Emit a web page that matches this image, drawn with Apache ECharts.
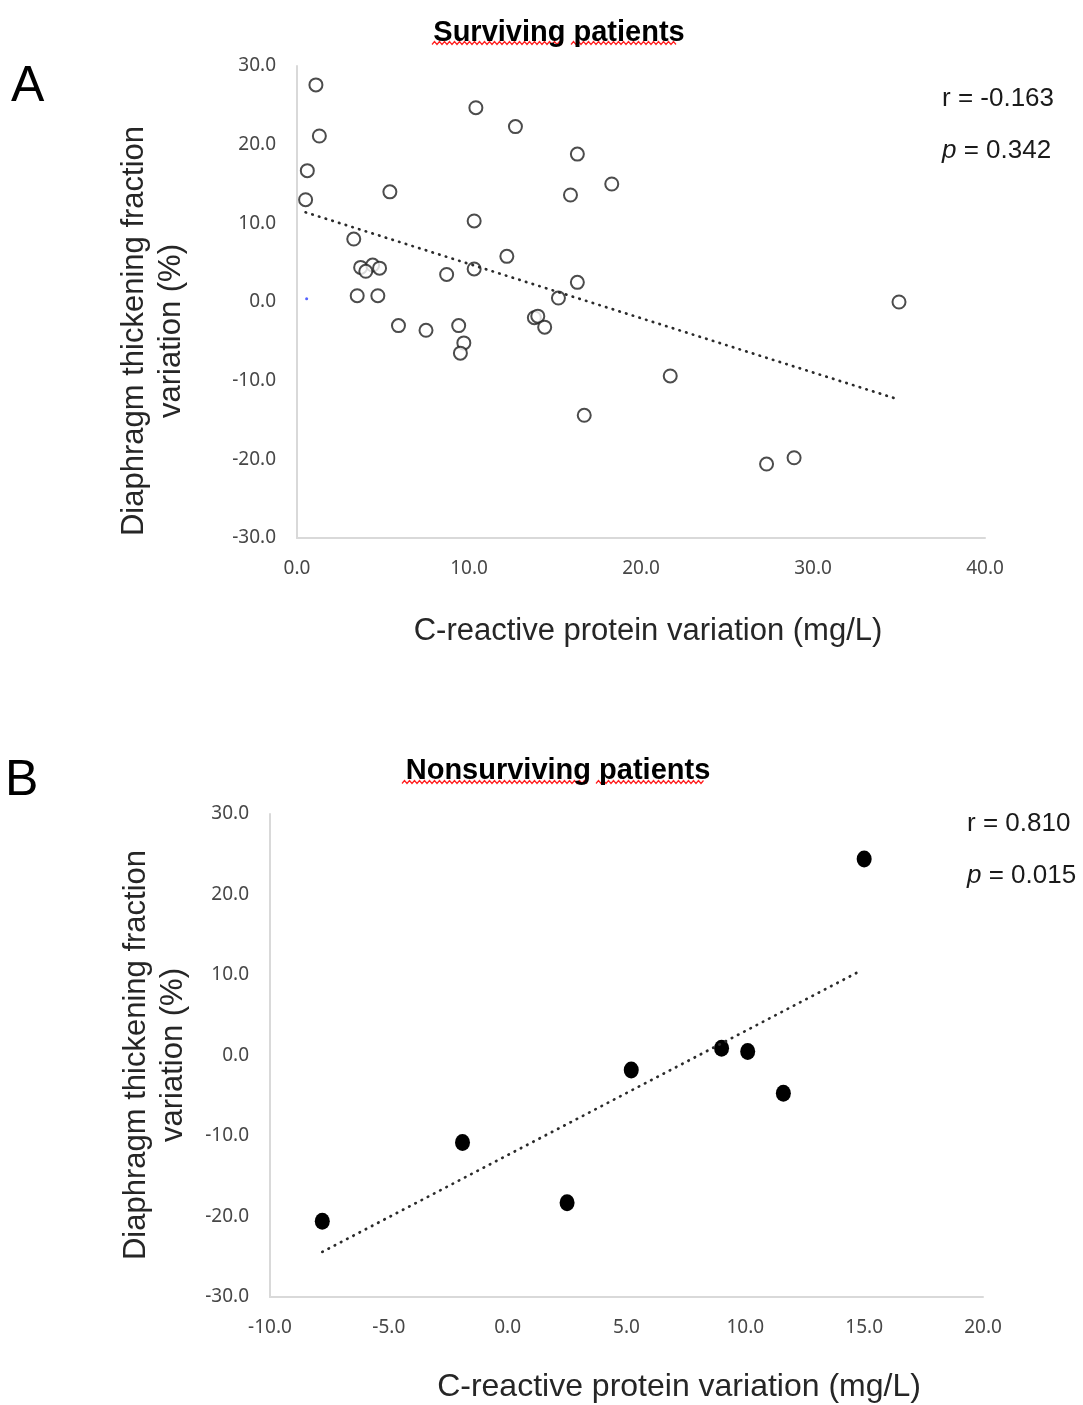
<!DOCTYPE html>
<html>
<head>
<meta charset="utf-8">
<script src="https://cdn.jsdelivr.net/npm/echarts@6/dist/echarts.min.js"></script>
<style>
  html, body { margin: 0; padding: 0; background: #fff; }
  #chart { width: 1083px; height: 1405px; }
</style>
</head>
<body>
<div id="chart"></div>
<script>
// panel A - surviving patients: [CRP variation, DTF variation]
var survivingPoints = [
  [1.1, 27.6], [10.4, 24.7], [12.7, 22.3], [1.3, 21.1], [16.3, 18.8],
  [0.6, 16.7], [18.3, 15.0], [5.4, 14.0], [15.9, 13.6], [0.5, 13.0],
  [10.3, 10.3], [3.3, 8.0], [12.2, 5.8], [3.7, 4.4], [4.4, 4.7],
  [4.0, 3.9], [4.8, 4.3], [10.3, 4.2], [8.7, 3.5], [16.3, 2.5],
  [3.5, 0.8], [4.7, 0.8], [15.2, 0.5], [35.0, 0.0], [5.9, -3.0],
  [7.5, -3.6], [9.4, -3.0], [13.8, -2.0], [14.0, -1.8], [14.4, -3.2],
  [9.7, -5.2], [9.5, -6.5], [21.7, -9.4], [16.7, -14.4], [27.3, -20.6],
  [28.9, -19.8]
];
var survivingStray = [[0.56, 0.4]];
var survivingTrend = [[0.5, 11.4], [34.7, -12.2]];
var survivingStats = { r: '-0.163', p: '0.342' };

// panel B - nonsurviving patients
var nonsurvivingPoints = [
  [-7.8, -20.6], [-1.9, -10.8], [2.5, -18.3], [5.2, -1.8],
  [9.0, 0.9], [10.1, 0.5], [11.6, -4.7], [15.0, 24.4]
];
var nonsurvivingTrend = [[-7.8, -24.4], [14.9, 10.6]];
var nonsurvivingStats = { r: '0.810', p: '0.015' };

var yTicks = { min: -30, max: 30, interval: 10 };
var xTicksA = { min: 0, max: 40, interval: 10 };
var xTicksB = { min: -10, max: 20, interval: 5 };

var yName = 'Diaphragm thickening fraction\nvariation (%)';
var xName = 'C-reactive protein variation (mg/L)';

var labelFont = 'Noto Sans';
var textFont = 'Liberation Sans';

function axisFor(gridIndex, t) {
  return {
    type: 'value', gridIndex: gridIndex,
    min: t.min, max: t.max, interval: t.interval,
    axisLine: { show: true, onZero: false, lineStyle: { color: '#d9d9d9', width: 2 } },
    axisTick: { show: false },
    splitLine: { show: false },
    axisLabel: {
      margin: 21, color: '#474747', fontSize: 19, fontFamily: labelFont,
      formatter: function (v) { return v.toFixed(1); }
    }
  };
}

// red spell-check squiggle under the titles
function squiggle(x0, x1, y) {
  var pts = [], i = 0;
  for (var x = x0; x <= x1; x += 2.5) {
    pts.push([x, y + (i % 2 ? -1.5 : 1.5)]);
    i++;
  }
  return {
    type: 'polyline', silent: true,
    shape: { points: pts },
    style: { stroke: '#ff2020', lineWidth: 1.2, fill: null }
  };
}

function statText(left, top, s) {
  return {
    type: 'text', left: left, top: top,
    style: {
      text: 'r = ' + s.r + '\n\n{i|p} = ' + s.p,
      font: '26px "Liberation Sans"', fill: '#1a1a1a', lineHeight: 26,
      rich: { i: { fontStyle: 'italic', fontSize: 26, fontFamily: textFont } }
    }
  };
}

function yTitle(x, y) {
  return {
    type: 'text', x: x, y: y, rotation: Math.PI / 2,
    style: {
      text: yName, font: '31px "Liberation Sans"', fill: '#262626',
      lineHeight: 37, align: 'center', verticalAlign: 'middle'
    }
  };
}

function xTitle(x, y, size) {
  return {
    type: 'text', x: x, y: y,
    style: {
      text: xName, font: size + 'px "Liberation Sans"', fill: '#262626',
      align: 'center', verticalAlign: 'middle'
    }
  };
}

var chart = echarts.init(document.getElementById('chart'), null, { renderer: 'canvas' });

var dotted = { color: '#2b2b2b', width: 2.7, type: [0.5, 6.5], cap: 'round' };

chart.setOption({
  backgroundColor: '#fff',
  animation: false,
  title: [
    { text: 'Surviving patients', left: 554, top: 13, textAlign: 'center',
      textStyle: { fontFamily: textFont, fontSize: 29, fontWeight: 'bold', color: '#000' } },
    { text: 'Nonsurviving patients', left: 553, top: 751, textAlign: 'center',
      textStyle: { fontFamily: textFont, fontSize: 29, fontWeight: 'bold', color: '#000' } }
  ],
  grid: [
    { left: 297, top: 66, width: 688, height: 472 },
    { left: 270, top: 814, width: 713, height: 483 }
  ],
  xAxis: [axisFor(0, xTicksA), axisFor(1, xTicksB)],
  yAxis: [axisFor(0, yTicks), axisFor(1, yTicks)],
  series: [
    {
      type: 'scatter', xAxisIndex: 0, yAxisIndex: 0,
      data: survivingPoints, symbol: 'circle', symbolSize: 13,
      itemStyle: { color: '#fff', borderColor: '#1f1f1f', borderWidth: 2 }
    },
    {
      type: 'scatter', xAxisIndex: 0, yAxisIndex: 0,
      data: survivingStray, symbolSize: 3, itemStyle: { color: '#2a3cff' }
    },
    {
      type: 'line', xAxisIndex: 0, yAxisIndex: 0,
      data: survivingTrend, showSymbol: false, symbol: 'none',
      lineStyle: dotted
    },
    {
      type: 'scatter', xAxisIndex: 1, yAxisIndex: 1,
      data: nonsurvivingPoints, symbol: 'circle', symbolSize: [15, 17],
      itemStyle: { color: '#000', opacity: 1 }
    },
    {
      type: 'line', xAxisIndex: 1, yAxisIndex: 1,
      data: nonsurvivingTrend, showSymbol: false, symbol: 'none',
      lineStyle: dotted
    }
  ],
  graphic: [
    { type: 'text', left: 11, top: 62, style: { text: 'A', font: '50px "Liberation Sans"', fill: '#000' } },
    { type: 'text', left: 5, top: 756, style: { text: 'B', font: '50px "Liberation Sans"', fill: '#000' } },
    yTitle(153, 331),
    yTitle(155, 1055),
    xTitle(648, 631, 31),
    xTitle(679, 1387, 32),
    statText(942, 86, survivingStats),
    statText(967, 811, nonsurvivingStats),
    squiggle(432, 562, 43),
    squiggle(571, 677, 43),
    squiggle(402, 587, 782),
    squiggle(596, 704, 782)
  ]
});
</script>
</body>
</html>
